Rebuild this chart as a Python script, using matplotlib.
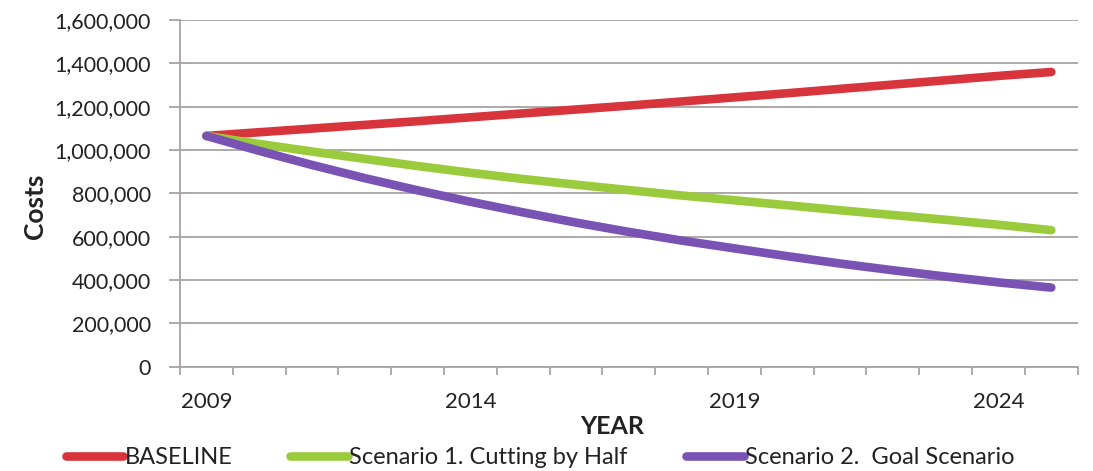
import matplotlib
matplotlib.use("Agg")
from matplotlib import pyplot as plt
from matplotlib.ticker import FixedLocator, FuncFormatter

plt.rcParams['font.family'] = ['Lato', 'DejaVu Sans']

years = list(range(2009, 2026))
tick_years = [2009, 2014, 2019, 2024]

# costs
baseline = [1065000, 1082000, 1099000, 1116000, 1133000, 1151000, 1169000, 1187000, 1205000,
            1224000, 1243000, 1262000, 1282000, 1302000, 1322000, 1342000, 1360000]
scenario1 = [1065000, 1028000, 993000, 959000, 926000, 895000, 866000, 840000, 815000,
             790000, 768000, 745000, 722000, 700000, 678000, 655000, 630000]
scenario2 = [1065000, 996000, 931000, 870000, 814000, 761000, 712000, 665000, 622000,
             582000, 546000, 510000, 476000, 445000, 416000, 389000, 365000]

names = ['BASELINE', 'Scenario 1. Cutting by Half', 'Scenario 2.  Goal Scenario']
colors = ['#d8343c', '#9acb3c', '#7a52b4']

fig = plt.figure(figsize=(10.93, 4.71), dpi=100)
ax = fig.add_axes([0.1647, 0.2215, 0.8213, 0.7360])

x = list(range(len(years)))
for vals, name, c in zip([baseline, scenario1, scenario2], names, colors):
    ax.plot(x, vals, color=c, lw=6.2, solid_capstyle='round', label=name)

ax.set_xlim(-0.5, 16.5)
ax.set_ylim(0, 1600000)
ax.set_yticks(range(0, 1600001, 200000))
ax.yaxis.set_major_formatter(FuncFormatter(lambda v, p: '{:,}'.format(int(v))))
ax.set_xticks([years.index(y) for y in tick_years])
ax.set_xticklabels([str(y) for y in tick_years])
ax.xaxis.set_minor_locator(FixedLocator([i - 0.5 for i in range(len(years) + 1)]))

ax.grid(axis='y', color='#a8a2a2', lw=1.3)
ax.set_axisbelow(True)
for s in ['top', 'right']:
    ax.spines[s].set_visible(False)
for s in ['left', 'bottom']:
    ax.spines[s].set_color('#a8a2a2')
    ax.spines[s].set_linewidth(1.3)

ax.tick_params(axis='y', colors='#a8a2a2', labelcolor='#222222', labelsize=15.5, length=8, width=1.3, pad=13)
ax.tick_params(axis='x', which='major', length=0, labelsize=16, labelcolor='#222222', pad=18)
ax.tick_params(axis='x', which='minor', length=6, width=1.3, color='#a8a2a2')

ax.set_ylabel('Costs', fontsize=19, fontweight='bold', color='#222222')
ax.yaxis.set_label_coords(-0.148, 0.463)
ax.set_xlabel('YEAR', fontsize=18, fontweight='bold', color='#222222')
ax.xaxis.set_label_coords(0.481, -0.14)

fig.legend(loc='lower left', bbox_to_anchor=(0.06, 0.006), ncol=3, frameon=False,
           fontsize=17, handlelength=2.45, handletextpad=0.05, columnspacing=2.45,
           borderpad=0, borderaxespad=0, labelcolor='#222222')

fig.savefig('out.png', dpi=100, facecolor='white')
